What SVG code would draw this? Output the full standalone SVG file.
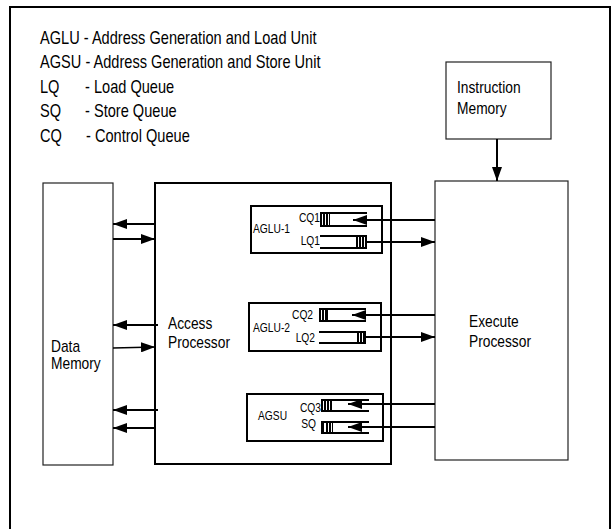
<svg xmlns="http://www.w3.org/2000/svg" width="613" height="529" viewBox="0 0 613 529">
  <style>
    text { font-family: "Liberation Sans", Arial, sans-serif; fill: #000; }
    .legend { font-size: 17.8px; }
    .lbl { font-size: 16.8px; }
    .q { font-size: 12.5px; }
    .thin { fill: #fff; stroke: #222; stroke-width: 1.2; }
    .thick { fill: none; stroke: #000; stroke-width: 2; }
    .wire { fill: none; stroke: #000; stroke-width: 2; }
    .rail { stroke: #000; stroke-width: 2; }
    .bars { fill: #000; }
    .gap { stroke: #fff; stroke-width: 1; }
  </style>
  <defs>
    <marker id="ah" viewBox="0 0 14 10" markerWidth="14" markerHeight="10" refX="14" refY="5" orient="auto" markerUnits="userSpaceOnUse">
      <path d="M0,0 L14,5 L0,10 z" fill="#000"/>
    </marker>
  </defs>

  <rect width="613" height="529" fill="#fff"/>
  <!-- outer frame (open at the bottom) -->
  <path d="M10,535 V7 H610 V535" fill="none" stroke="#000" stroke-width="2"/>

  <!-- abbreviations; narrow type is set with a horizontal squeeze of 0.82 -->
  <g id="legend">
    <text class="legend" transform="matrix(0.82 0 0 1 40 43.5)">AGLU - Address Generation and Load Unit</text>
    <text class="legend" transform="matrix(0.82 0 0 1 40 68)">AGSU - Address Generation and Store Unit</text>
    <text class="legend" transform="matrix(0.82 0 0 1 40 92.5)">LQ</text>
    <text class="legend" transform="matrix(0.82 0 0 1 85 92.5)">- Load Queue</text>
    <text class="legend" transform="matrix(0.82 0 0 1 40 117)">SQ</text>
    <text class="legend" transform="matrix(0.82 0 0 1 85 117)">- Store Queue</text>
    <text class="legend" transform="matrix(0.82 0 0 1 40 141.5)">CQ</text>
    <text class="legend" transform="matrix(0.82 0 0 1 86 141.5)">- Control Queue</text>
  </g>

  <g id="instruction-memory">
    <rect class="thin" x="446" y="62" width="105" height="77"/>
    <text class="lbl" transform="matrix(0.82 0 0 1 457 93)">Instruction</text>
    <text class="lbl" transform="matrix(0.82 0 0 1 457 114)">Memory</text>
  </g>

  <g id="data-memory">
    <rect class="thin" x="43" y="183" width="70" height="282"/>
    <text class="lbl" transform="matrix(0.82 0 0 1 51 352)">Data</text>
    <text class="lbl" transform="matrix(0.82 0 0 1 51 369)">Memory</text>
  </g>

  <g id="access-processor">
    <rect class="thick" x="155" y="183" width="236" height="281"/>
    <text class="lbl" transform="matrix(0.82 0 0 1 168 329)">Access</text>
    <text class="lbl" transform="matrix(0.82 0 0 1 168 348)">Processor</text>
  </g>

  <g id="execute-processor">
    <rect class="thin" x="435" y="181" width="133" height="279"/>
    <text class="lbl" transform="matrix(0.82 0 0 1 469 327)">Execute</text>
    <text class="lbl" transform="matrix(0.82 0 0 1 469 347)">Processor</text>
  </g>

  <g id="aglu-1">
    <rect class="thick" x="251" y="206" width="131" height="47"/>
    <text class="q" transform="matrix(0.82 0 0 1 253 233)">AGLU-1</text>
    <text class="q" text-anchor="end" transform="matrix(0.82 0 0 1 320 222)">CQ1</text>
    <text class="q" text-anchor="end" transform="matrix(0.82 0 0 1 320 245)">LQ1</text>
  </g>
  <g id="cq1">
    <line class="rail" x1="320" y1="213" x2="367" y2="213"/>
    <line class="rail" x1="320" y1="226" x2="367" y2="226"/>
    <rect class="bars" x="320" y="212" width="10" height="15"/>
    <path class="gap" d="M322.5,214 V225 M325.5,214 V225 M328.5,214 V225"/>
  </g>
  <g id="lq1">
    <line class="rail" x1="320" y1="236" x2="367" y2="236"/>
    <line class="rail" x1="320" y1="248" x2="367" y2="248"/>
    <rect class="bars" x="356" y="235" width="11" height="14"/>
    <path class="gap" d="M358.5,237 V247 M361.5,237 V247 M364.5,237 V247"/>
  </g>

  <g id="aglu-2">
    <rect class="thick" x="249" y="303" width="132" height="48"/>
    <text class="q" transform="matrix(0.82 0 0 1 253 332)">AGLU-2</text>
    <text class="q" transform="matrix(0.82 0 0 1 292 319)">CQ2</text>
    <text class="q" text-anchor="end" transform="matrix(0.82 0 0 1 315 342)">LQ2</text>
  </g>
  <g id="cq2">
    <line class="rail" x1="319" y1="309" x2="366" y2="309"/>
    <line class="rail" x1="319" y1="321" x2="366" y2="321"/>
    <rect class="bars" x="319" y="308" width="9" height="14"/>
    <path class="gap" d="M321.5,310 V320 M324.5,310 V320"/>
  </g>
  <g id="lq2">
    <line class="rail" x1="319" y1="332" x2="366" y2="332"/>
    <line class="rail" x1="319" y1="343" x2="366" y2="343"/>
    <rect class="bars" x="357" y="331" width="9" height="13"/>
    <path class="gap" d="M359.5,333 V342 M362.5,333 V342"/>
  </g>

  <g id="agsu">
    <rect class="thick" x="247" y="394" width="136" height="47"/>
    <text class="q" transform="matrix(0.82 0 0 1 258 420)">AGSU</text>
    <text class="q" text-anchor="end" transform="matrix(0.82 0 0 1 321 412)">CQ3</text>
    <text class="q" text-anchor="end" transform="matrix(0.82 0 0 1 316 428)">SQ</text>
  </g>
  <g id="cq3">
    <line class="rail" x1="321" y1="400" x2="369" y2="400"/>
    <line class="rail" x1="321" y1="411" x2="369" y2="411"/>
    <rect class="bars" x="321" y="399" width="11" height="13"/>
    <path class="gap" d="M323.5,401 V410 M326.5,401 V410 M329.5,401 V410"/>
  </g>
  <g id="sq">
    <line class="rail" x1="322" y1="422" x2="369" y2="422"/>
    <line class="rail" x1="322" y1="433" x2="369" y2="433"/>
    <rect class="bars" x="321" y="421" width="3" height="13"/>
    <rect class="bars" x="326" y="421" width="7" height="13"/>
    <path class="gap" d="M328.5,423 V432 M331.5,423 V432"/>
  </g>

  <g id="connectors">
    <!-- instruction fetch -->
    <line class="wire" x1="497" y1="139" x2="497" y2="181" marker-end="url(#ah)"/>
    <!-- data memory traffic -->
    <line class="wire" x1="155" y1="224" x2="113" y2="224" marker-end="url(#ah)"/>
    <line class="wire" x1="113" y1="239" x2="155" y2="239" marker-end="url(#ah)"/>
    <line class="wire" x1="158" y1="325" x2="113" y2="325" marker-end="url(#ah)"/>
    <line x1="113" y1="348" x2="155" y2="347" stroke="#000" stroke-width="1.3" marker-end="url(#ah)"/>
    <line class="wire" x1="158" y1="410" x2="113" y2="410" marker-end="url(#ah)"/>
    <line class="wire" x1="155" y1="428" x2="113" y2="428" marker-end="url(#ah)"/>
    <!-- queues to and from the execute processor -->
    <line class="wire" x1="435" y1="220" x2="353" y2="220" marker-end="url(#ah)"/>
    <line class="wire" x1="367" y1="242" x2="435" y2="242" marker-end="url(#ah)"/>
    <line class="wire" x1="435" y1="315" x2="352" y2="315" marker-end="url(#ah)"/>
    <line class="wire" x1="366" y1="337" x2="435" y2="337" marker-end="url(#ah)"/>
    <line class="wire" x1="435" y1="404" x2="348" y2="404" marker-end="url(#ah)"/>
    <line class="wire" x1="435" y1="427" x2="348" y2="427" marker-end="url(#ah)"/>
  </g>
</svg>
